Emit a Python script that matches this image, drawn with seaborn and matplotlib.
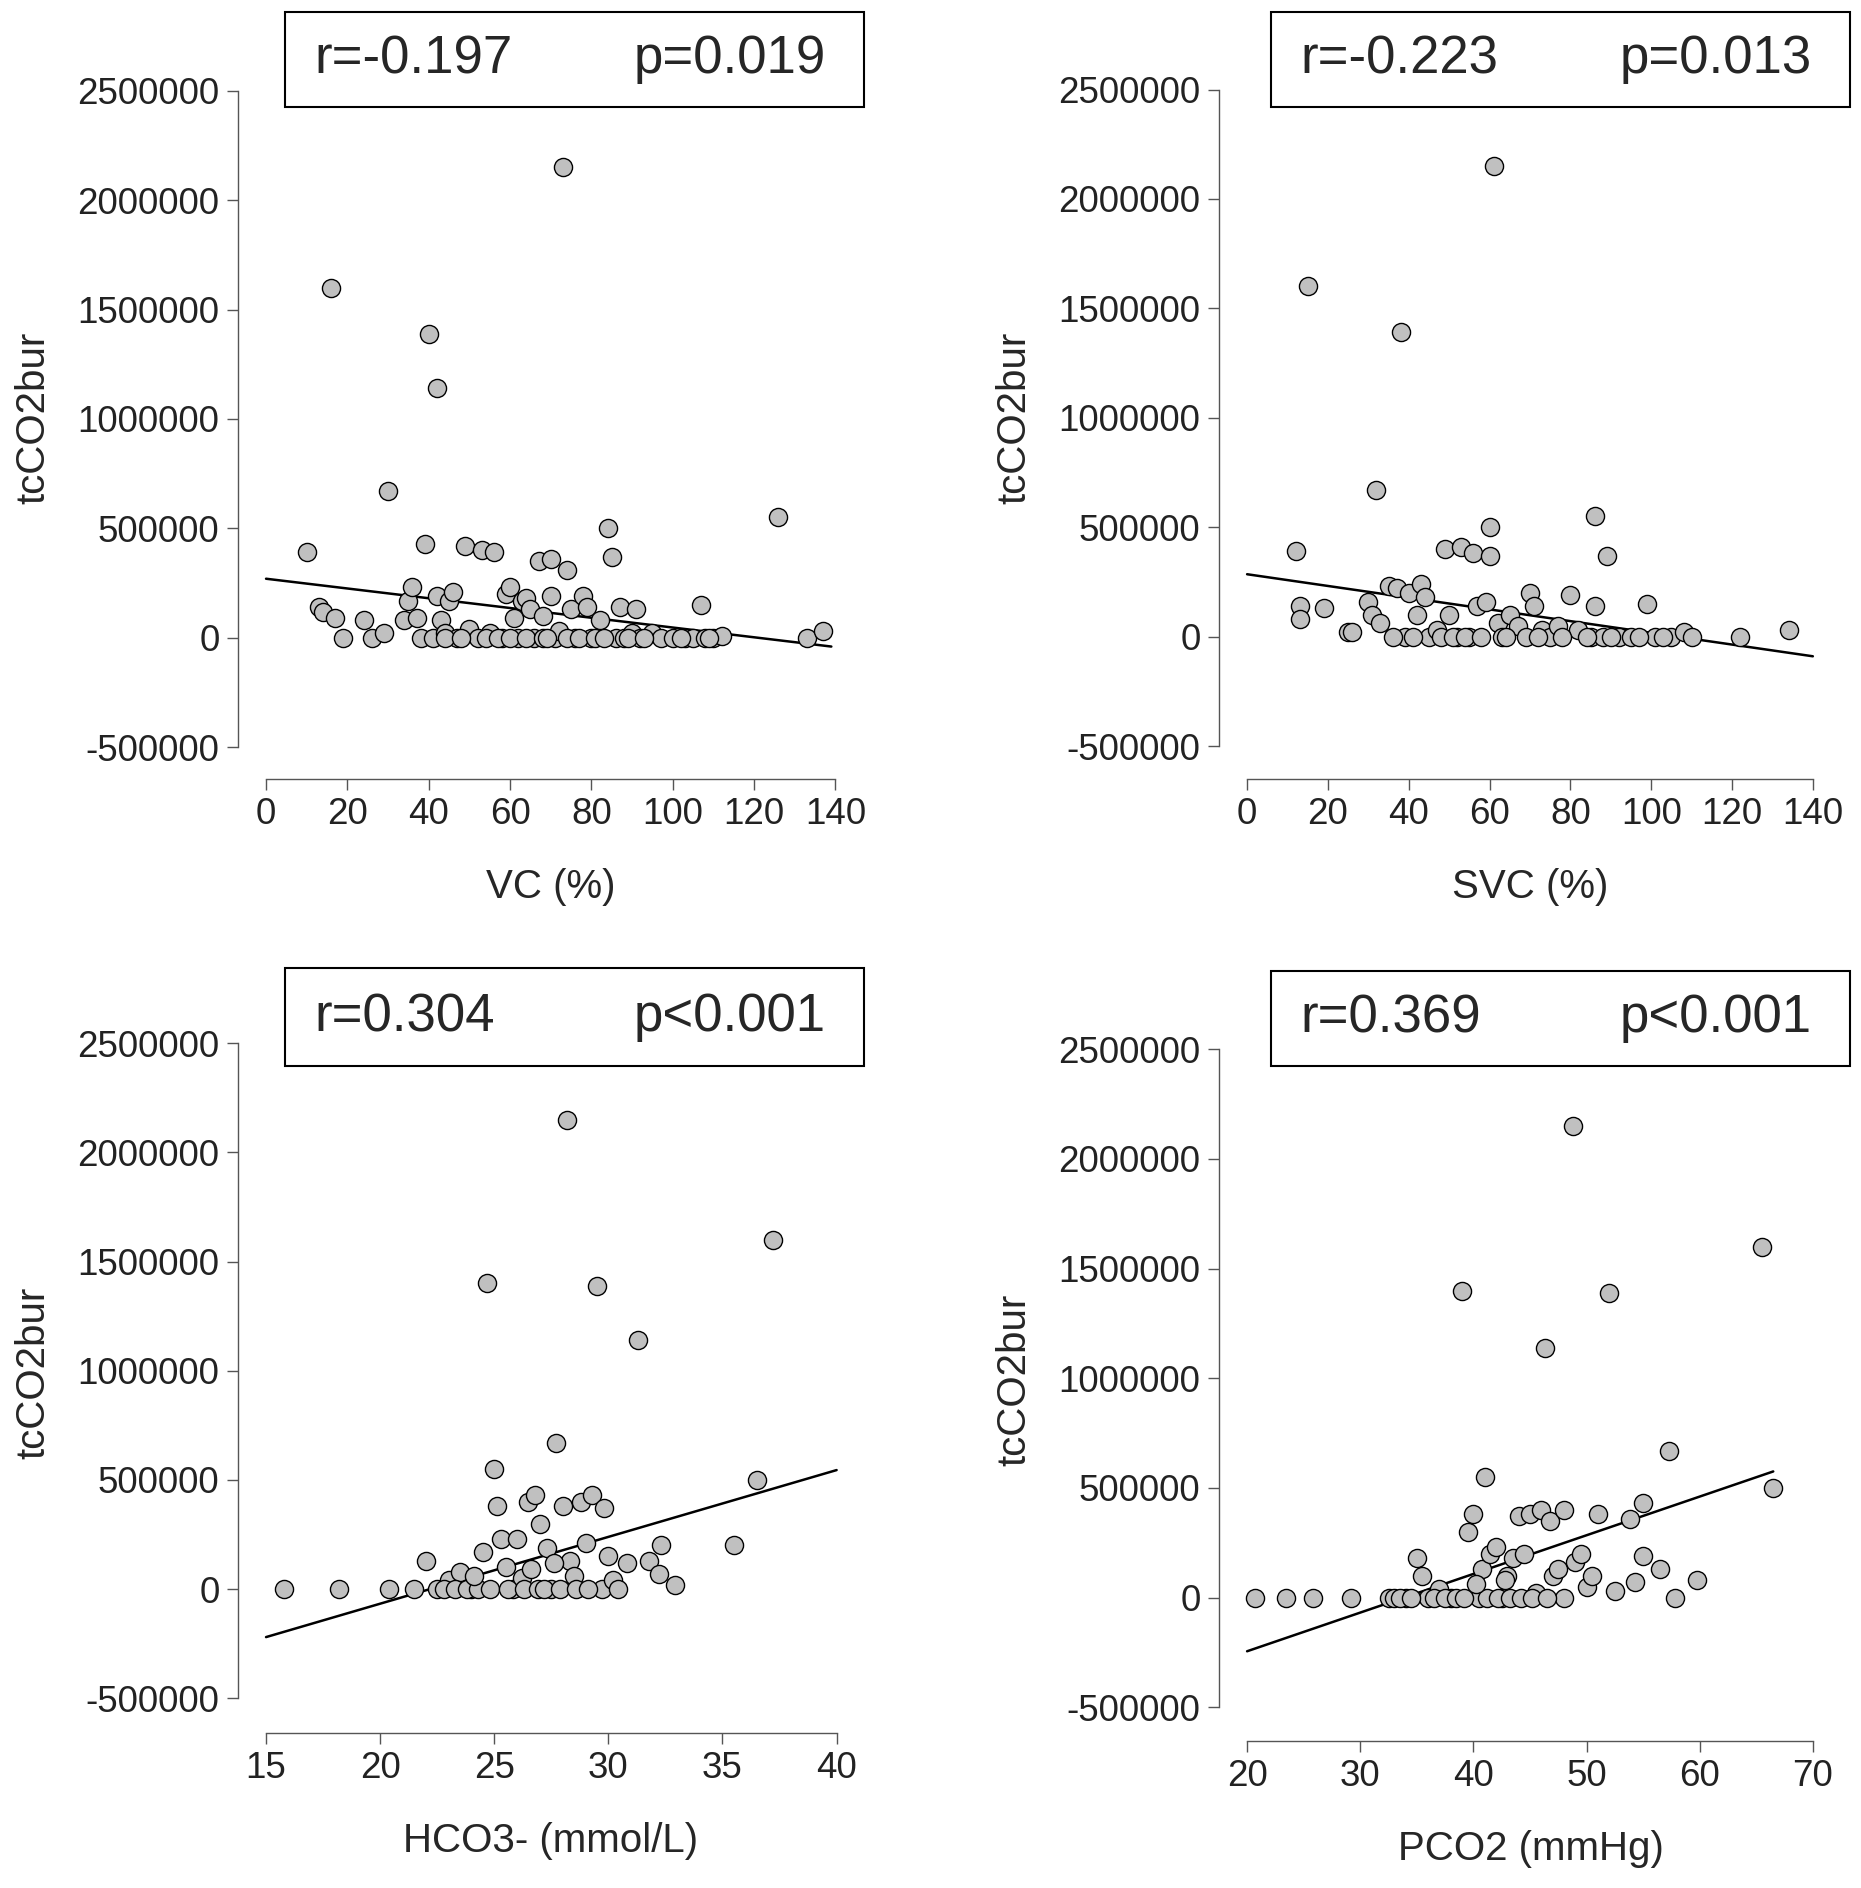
import matplotlib
matplotlib.use("Agg")
import matplotlib.pyplot as plt
from matplotlib.patches import Rectangle
import pandas as pd
import seaborn as sns

# ---- data ----
vc_x = [10, 13, 14, 16, 17, 19, 24, 26, 29, 30, 34, 35, 36, 37, 38, 39, 40, 41, 42, 42, 43, 44, 45, 46, 47,
        49, 50, 52, 53, 55, 56, 58, 59, 60, 61, 62, 63, 64, 65, 66, 67, 68, 70, 70, 71, 72, 73, 74, 75, 76,
        78, 79, 80, 82, 84, 85, 86, 87, 88, 90, 91, 92, 95, 97, 103, 105, 107, 108, 110, 112, 126, 133, 137,
        44, 48, 54, 57, 60, 64, 68, 69, 74, 77, 81, 83, 89, 93, 100, 102, 109]
vc_y = [390e3, 140e3, 120e3, 1600e3, 90e3, 0, 80e3, 0, 20e3, 670e3, 80e3, 170e3, 230e3, 90e3, 0, 430e3,
        1390e3, 0, 1140e3, 190e3, 80e3, 20e3, 170e3, 210e3, 0, 420e3, 40e3, 0, 400e3, 20e3, 390e3, 0,
        200e3, 230e3, 90e3, 0, 170e3, 180e3, 130e3, 0, 350e3, 100e3, 360e3, 190e3, 0, 30e3, 2150e3, 310e3,
        130e3, 0, 190e3, 140e3, 0, 80e3, 500e3, 370e3, 0, 140e3, 0, 20e3, 130e3, 0, 20e3, 0, 0, 0, 150e3,
        0, 0, 10e3, 550e3, 0, 30e3,
        0, 0, 0, 0, 0, 0, 0, 0, 0, 0, 0, 0, 0, 0, 0, 0, 0]

svc_x = [12, 13, 13, 15, 19, 25, 26, 30, 31, 32, 33, 35, 37, 38, 39, 40, 42, 43, 44, 45, 47, 49, 50, 52,
         53, 55, 56, 57, 59, 60, 60, 61, 62, 63, 65, 67, 70, 71, 73, 75, 77, 80, 82, 85, 86, 86, 88, 89,
         92, 95, 99, 101, 105, 108, 110, 122, 134,
         36, 41, 48, 51, 54, 58, 64, 69, 72, 78, 84, 90, 97, 103]
svc_y = [390e3, 140e3, 80e3, 1600e3, 130e3, 20e3, 20e3, 160e3, 100e3, 670e3, 60e3, 230e3, 220e3, 1390e3,
         0, 200e3, 100e3, 240e3, 180e3, 0, 30e3, 400e3, 100e3, 0, 410e3, 0, 380e3, 140e3, 160e3, 500e3,
         370e3, 2150e3, 60e3, 0, 100e3, 50e3, 200e3, 140e3, 30e3, 0, 50e3, 190e3, 30e3, 0, 550e3, 140e3,
         0, 370e3, 0, 0, 150e3, 0, 0, 20e3, 0, 0, 30e3,
         0, 0, 0, 0, 0, 0, 0, 0, 0, 0, 0, 0, 0, 0]

hco3_x = [15.8, 18.2, 20.4, 21.5, 22, 22.5, 23, 23.5, 24, 24.5, 24.7, 25, 25.1, 25.3, 25.5, 25.8, 26, 26.2,
          26.5, 26.8, 27, 27.3, 27.5, 27.7, 28, 28.2, 28.3, 28.5, 28.8, 29, 29.3, 29.5, 29.7, 29.8, 30,
          30.2, 30.4, 30.8, 31.3, 31.8, 32.2, 32.3, 32.9, 35.5, 36.5, 37.2,
          22.8, 23.3, 23.8, 24.3, 24.8, 25.6, 26.3, 26.9, 27.2, 27.9, 28.6, 29.1, 24.1, 26.6, 27.6]
hco3_y = [0, 0, 0, 0, 130e3, 0, 40e3, 80e3, 0, 170e3, 1400e3, 550e3, 380e3, 230e3, 100e3, 0, 230e3, 50e3,
          400e3, 430e3, 300e3, 190e3, 0, 670e3, 380e3, 2150e3, 130e3, 60e3, 400e3, 210e3, 430e3, 1390e3,
          0, 370e3, 150e3, 40e3, 0, 120e3, 1140e3, 130e3, 70e3, 200e3, 20e3, 200e3, 500e3, 1600e3,
          0, 0, 0, 0, 0, 0, 0, 0, 0, 0, 0, 0, 60e3, 90e3, 120e3]

pco2_x = [20.7, 23.4, 25.8, 29.2, 32.5, 33, 34, 35, 35.5, 36, 37, 38, 39, 39.5, 40, 40.5, 40.8, 41, 41.5,
          42, 42.5, 43, 43.5, 44, 44.5, 45, 45.5, 46, 46.3, 46.8, 47, 47.5, 48, 48, 48.8, 49, 49.5, 50,
          50.5, 51, 52, 52.5, 53.8, 54.3, 55, 55, 56.5, 57.3, 57.8, 59.8, 65.5, 66.5,
          33.5, 34.5, 36.5, 37.5, 38.5, 39.2, 41.2, 42.2, 43.2, 44.2, 45.2, 46.5, 40.2, 42.8]
pco2_y = [0, 0, 0, 0, 0, 0, 0, 180e3, 100e3, 0, 40e3, 0, 1400e3, 300e3, 380e3, 0, 130e3, 550e3, 200e3,
          230e3, 0, 100e3, 180e3, 370e3, 200e3, 380e3, 20e3, 400e3, 1140e3, 350e3, 100e3, 130e3, 400e3,
          0, 2150e3, 160e3, 200e3, 50e3, 100e3, 380e3, 1390e3, 30e3, 360e3, 70e3, 430e3, 190e3, 130e3,
          670e3, 0, 80e3, 1600e3, 500e3,
          0, 0, 0, 0, 0, 0, 0, 0, 0, 0, 0, 0, 60e3, 80e3]

# fitted line end points
vc_line = ([0, 139], [270e3, -40e3])
svc_line = ([0, 140], [285e3, -90e3])
hco3_line = ([15, 40], [-220e3, 545e3])
pco2_line = ([20, 66.5], [-245e3, 575e3])

labels = ["VC (%)", "SVC (%)", "HCO3- (mmol/L)", "PCO2 (mmHg)"]
r_text = ["r=-0.197", "r=-0.223", "r=0.304", "r=0.369"]
p_text = ["p=0.019", "p=0.013", "p<0.001", "p<0.001"]
x_ticks = [list(range(0, 141, 20)), list(range(0, 141, 20)), [15, 20, 25, 30, 35, 40], [20, 30, 40, 50, 60, 70]]
y_ticks = [-500000, 0, 500000, 1000000, 1500000, 2000000, 2500000]

sns.set_theme(style="white")
plt.rcParams["font.family"] = ["Liberation Sans", "DejaVu Sans"]

W, H = 1546.0, 1560.0
# per panel: (x px of first tick, x px of last tick, y px of 0, y px of 2.5M, axis rect px)
panels = [
    (vc_x, vc_y, vc_line, (221, 694), (527, 75), (210, 705, 60, 630)),
    (svc_x, svc_y, svc_line, (1036, 1506), (526, 74), (1025, 1518, 60, 630)),
    (hco3_x, hco3_y, hco3_line, (221, 695), (1313, 862), (210, 705, 850, 1418)),
    (pco2_x, pco2_y, pco2_line, (1036, 1506), (1320, 867), (1025, 1518, 855, 1425)),
]
boxes = [(237, 718, 10, 88), (1056, 1537, 10, 88), (237, 718, 800, 881), (1056, 1537, 802, 881)]

fig = plt.figure(figsize=(18.61, 18.88), dpi=100)
for i, (xs, ys, line, (px0, px1), (py0, py25), (l, r, t, b)) in enumerate(panels):
    xt = x_ticks[i]
    ax = fig.add_axes([l / W, 1 - b / H, (r - l) / W, (b - t) / H])
    ux = (xt[-1] - xt[0]) / (px1 - px0)
    uy = 2.5e6 / (py0 - py25)
    ax.set_xlim(xt[0] + (l - px0) * ux, xt[0] + (r - px0) * ux)
    ax.set_ylim((py0 - b) * uy, (py0 - t) * uy)
    df = pd.DataFrame({"x": xs, "y": ys})
    sns.lineplot(x=line[0], y=line[1], ax=ax, color="black", linewidth=1.8, zorder=2)
    sns.scatterplot(data=df, x="x", y="y", ax=ax, s=170, color="#c0c0c0",
                    edgecolor="black", linewidth=1.0, zorder=3)
    ax.set_xticks(xt)
    ax.set_yticks(y_ticks)
    ax.set_yticklabels([str(v) for v in y_ticks])
    ax.tick_params(labelsize=26.5, length=8, width=1, color="#555555", labelcolor="#222222",
                   left=True, bottom=True, pad=5)
    for s in ["top", "right"]:
        ax.spines[s].set_visible(False)
    ax.spines["left"].set_position(("outward", 11))
    ax.spines["bottom"].set_position(("outward", 12))
    ax.spines["left"].set_bounds(-500000, 2500000)
    ax.spines["bottom"].set_bounds(xt[0], xt[-1])
    for s in ["left", "bottom"]:
        ax.spines[s].set_color("#555555")
        ax.spines[s].set_linewidth(1)
    ax.set_xlabel(labels[i], fontsize=29, labelpad=26)
    ax.set_ylabel("tcCO2bur", fontsize=29, labelpad=18)
    ax.grid(False)

    bl, br, bt, bb = boxes[i]
    fig.patches.append(Rectangle((bl / W, 1 - bb / H), (br - bl) / W, (bb - bt) / H,
                                 transform=fig.transFigure, fill=False, edgecolor="black", linewidth=1.5))
    yc = 1 - (bt + bb) / 2 / H
    fig.text((bl + 24) / W, yc, r_text[i], fontsize=38, va="center", ha="left")
    fig.text((br - 32) / W, yc, p_text[i], fontsize=38, va="center", ha="right")

fig.savefig("out.png", dpi=100)
